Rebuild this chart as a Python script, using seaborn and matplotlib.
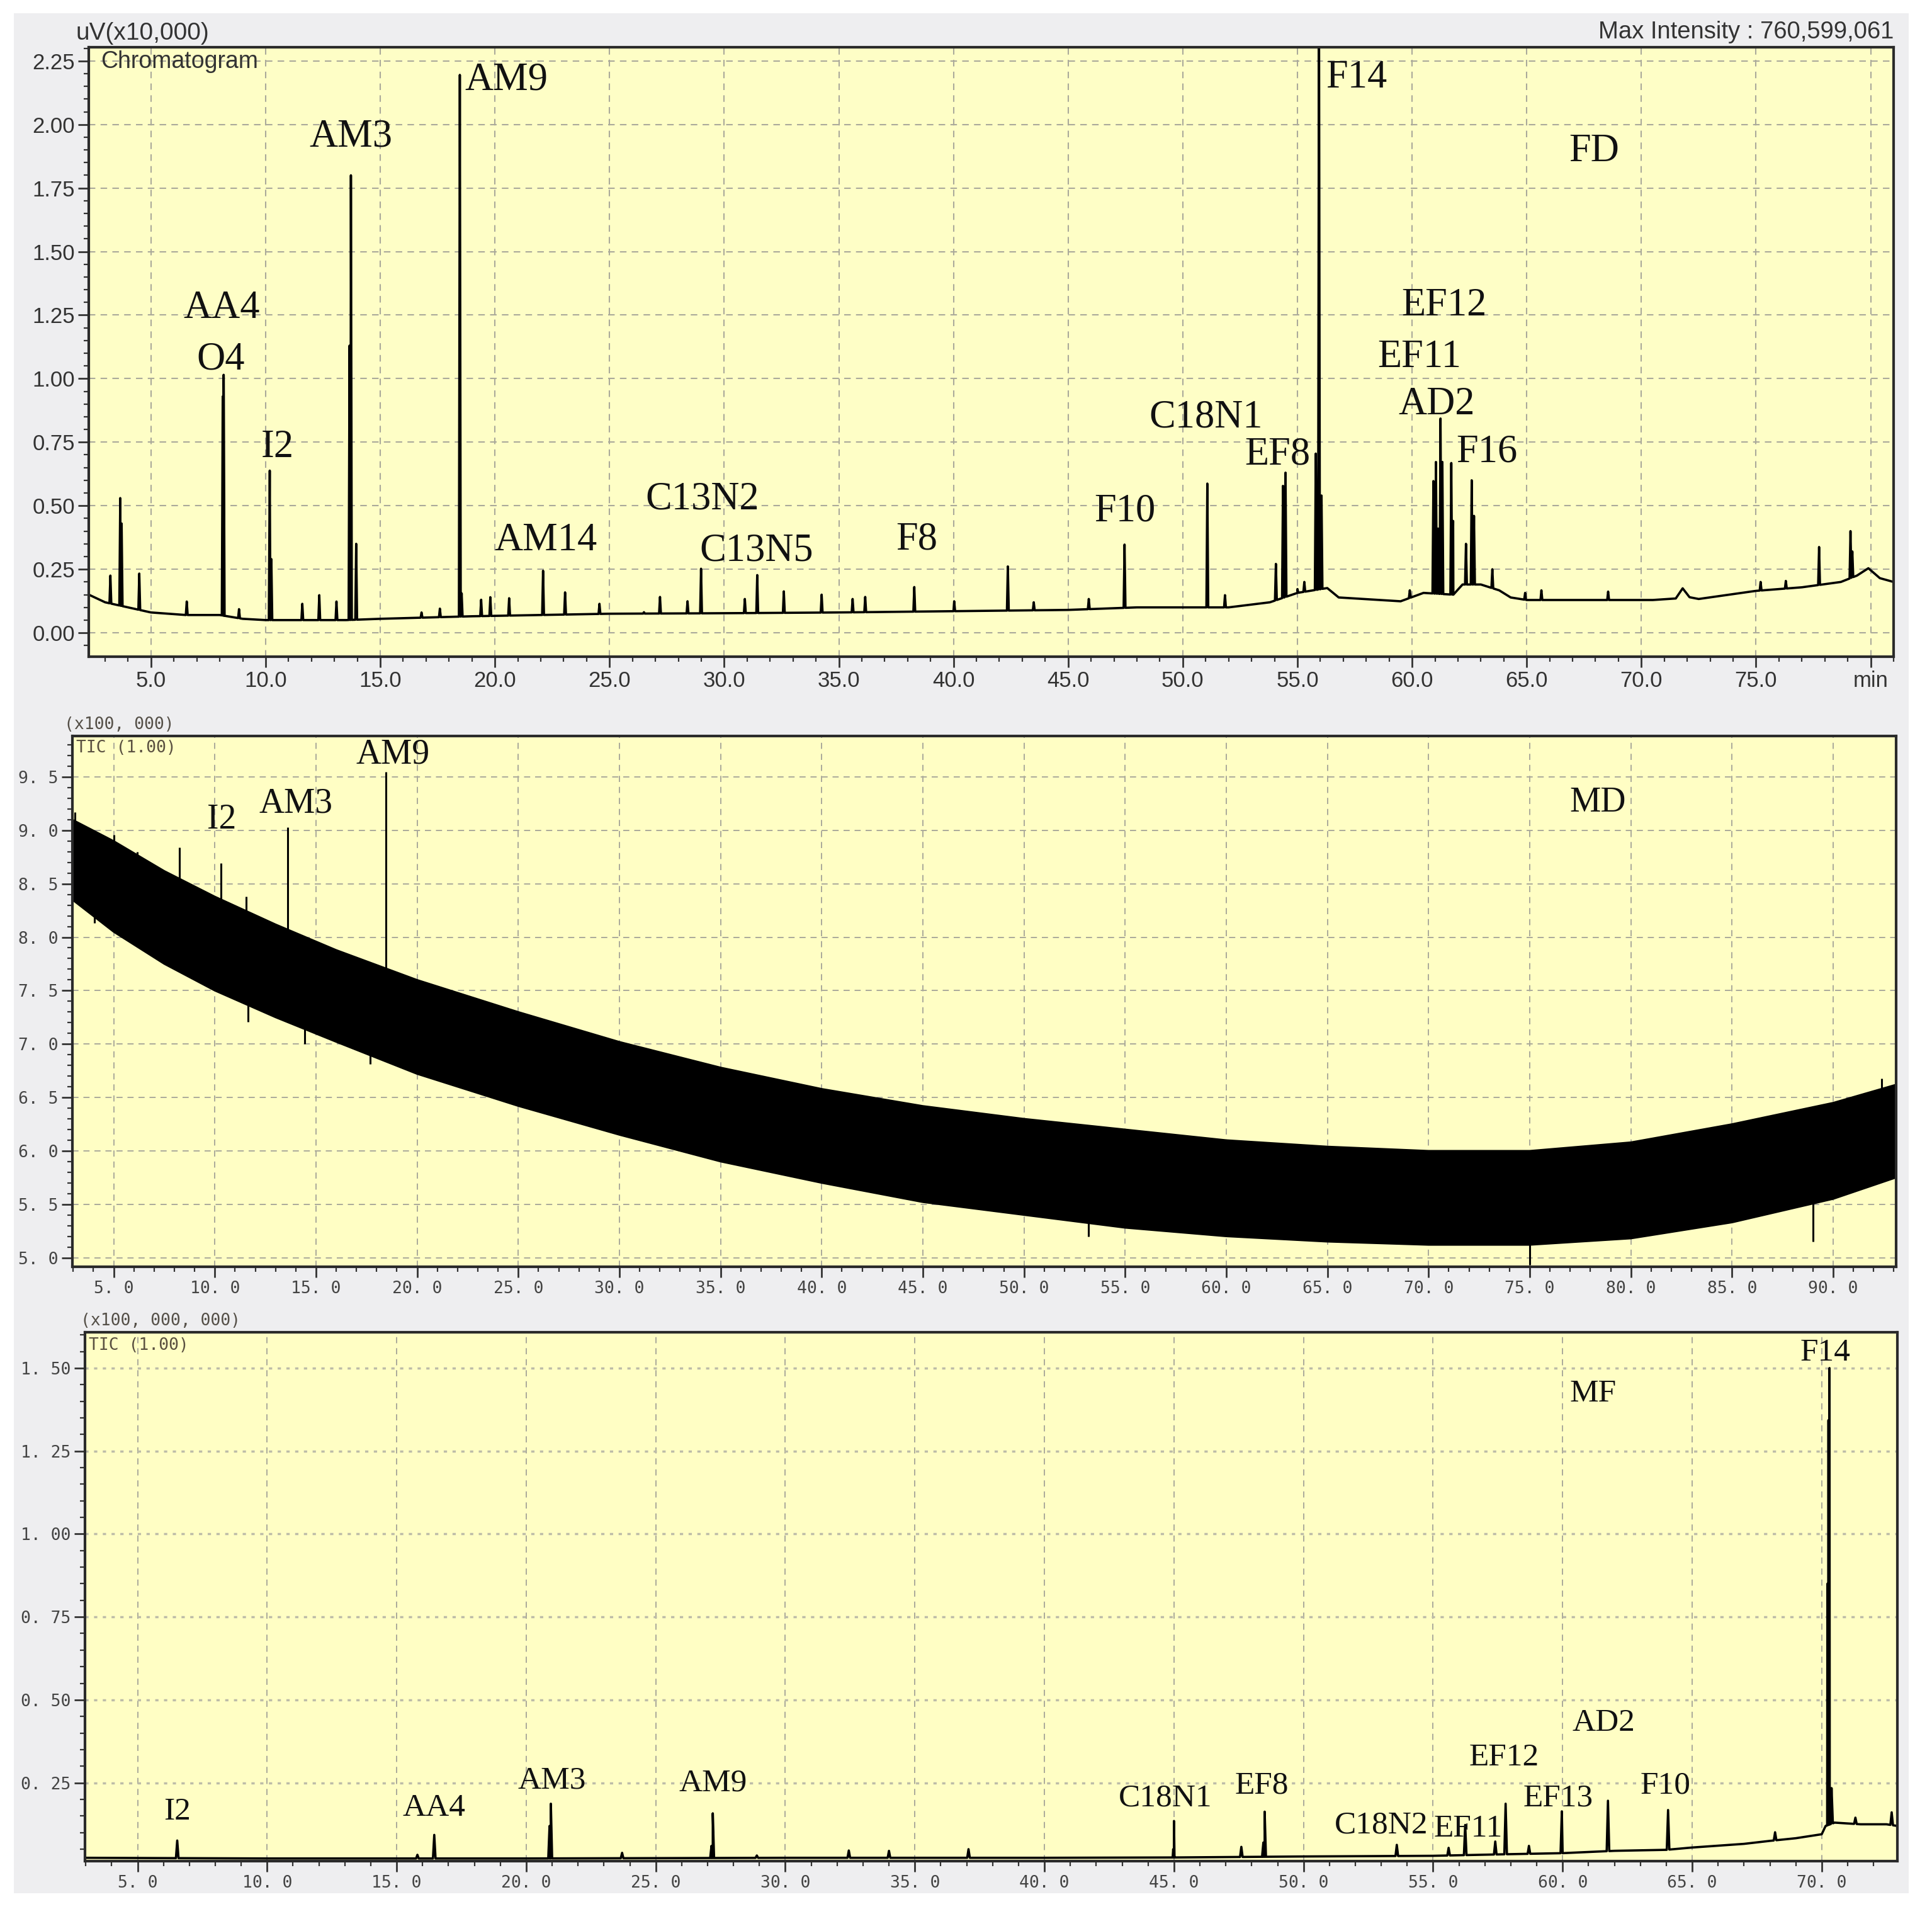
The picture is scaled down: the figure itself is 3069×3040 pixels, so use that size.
import numpy as np
import pandas as pd
import matplotlib
matplotlib.use("Agg")
import matplotlib.pyplot as plt
from matplotlib.patches import Rectangle
from matplotlib.ticker import MultipleLocator, FixedLocator, FixedFormatter
import seaborn as sns

# ---------------- data: FD (top panel, uV x10,000) ----------------
fd_base_t = [2.29, 3.0, 4.0, 5.0, 6.5, 8.0, 9.0, 10.0, 13.5, 15.0, 17.0, 19.0, 22.0, 25.0,
             30.0, 35.0, 40.0, 45.0, 48.0, 52.0, 53.8, 55.0, 56.3, 56.8, 59.5, 60.5, 61.8,
             62.2, 63.0, 63.8, 64.3, 65.0, 70.5, 71.5, 71.8, 72.1, 72.5, 75.0, 77.0, 78.7,
             79.4, 79.9, 80.4, 81.0]
fd_base_v = [0.15, 0.12, 0.10, 0.08, 0.07, 0.07, 0.055, 0.05, 0.05, 0.055, 0.06, 0.065, 0.07, 0.075,
             0.077, 0.08, 0.085, 0.09, 0.10, 0.10, 0.12, 0.157, 0.176, 0.139, 0.124, 0.157, 0.15,
             0.19, 0.19, 0.167, 0.139, 0.129, 0.129, 0.135, 0.175, 0.14, 0.133, 0.165, 0.179, 0.20,
             0.225, 0.254, 0.215, 0.20]
fd_peak_t = [3.23, 3.66, 3.72, 4.49, 6.56, 8.13, 8.17, 8.84, 10.18, 10.25, 11.6, 12.34, 13.09,
             13.66, 13.72, 13.95, 16.8, 17.6, 18.47, 18.55, 19.4, 19.8, 20.62, 22.1, 23.06,
             24.56, 26.5, 27.2, 28.4, 28.99, 30.9, 31.44, 32.6, 34.25, 35.6, 36.15, 38.29,
             40.03, 42.37, 43.5, 45.9, 47.46, 51.07, 51.84, 54.06, 54.37, 54.48, 55.0, 55.3,
             55.8, 55.94, 56.05, 59.9, 60.93, 61.04, 61.13, 61.24, 61.32, 61.71, 61.79, 62.35,
             62.6, 62.7, 63.5, 64.93, 65.64, 68.55, 75.2, 76.3, 77.75, 79.12, 79.2]
fd_peak_h = [0.225, 0.53, 0.43, 0.233, 0.123, 0.93, 1.015, 0.093, 0.638, 0.29, 0.114, 0.148, 0.123,
             1.13, 1.80, 0.35, 0.08, 0.095, 2.195, 0.155, 0.13, 0.14, 0.136, 0.244, 0.159,
             0.114, 0.081, 0.141, 0.124, 0.252, 0.133, 0.227, 0.163, 0.15, 0.133, 0.141, 0.18,
             0.124, 0.261, 0.12, 0.133, 0.347, 0.587, 0.148, 0.271, 0.578, 0.63, 0.172, 0.2,
             0.705, 2.5, 0.54, 0.167, 0.597, 0.672, 0.41, 0.843, 0.672, 0.668, 0.44, 0.35,
             0.60, 0.46, 0.25, 0.157, 0.167, 0.162, 0.2, 0.204, 0.3375, 0.4, 0.32]
fd_labels = ["AA4", "O4", "I2", "AM3", "AM9", "AM14", "C13N2", "C13N5", "F8", "F10",
             "C18N1", "EF8", "F14", "EF12", "EF11", "AD2", "F16", "FD"]
fd_label_t = [8.09, 8.03, 10.51, 13.73, 20.5, 22.22, 29.04, 31.41, 38.39, 47.47,
              51.02, 54.14, 57.58, 61.39, 60.32, 61.07, 63.27, 67.95]
fd_label_v = [1.276, 1.073, 0.729, 1.95, 2.173, 0.361, 0.525, 0.322, 0.365, 0.477,
              0.845, 0.70, 2.182, 1.286, 1.082, 0.898, 0.709, 1.892]

# ---------------- data: MD (middle panel, x100,000) ----------------
md_t = [2.96, 5.0, 7.5, 10.0, 13.0, 16.0, 20.0, 25.0, 30.0, 35.0, 40.0, 45.0, 50.0, 55.0,
        60.0, 65.0, 70.0, 75.0, 80.0, 85.0, 90.0, 93.11]
md_upper = [9.10, 8.90, 8.62, 8.38, 8.12, 7.88, 7.60, 7.30, 7.02, 6.78, 6.58, 6.42, 6.30, 6.20,
            6.10, 6.04, 6.00, 6.00, 6.08, 6.25, 6.45, 6.62]
md_lower = [8.35, 8.05, 7.75, 7.50, 7.25, 7.02, 6.72, 6.42, 6.15, 5.90, 5.70, 5.52, 5.40, 5.28,
            5.20, 5.15, 5.12, 5.12, 5.18, 5.33, 5.55, 5.75]
md_up_t = [3.1, 5.0, 6.18, 8.26, 10.3, 11.54, 13.61, 18.45, 92.4]
md_up_v = [9.17, 8.96, 8.80, 8.84, 8.69, 8.38, 9.03, 9.55, 6.68]
md_dn_t = [4.05, 11.64, 14.45, 17.68, 53.2, 75.0, 89.0]
md_dn_v = [8.13, 7.21, 7.00, 6.81, 5.20, 4.93, 5.15]
md_labels = ["I2", "AM3", "AM9", "MD"]
md_label_t = [10.35, 14.0, 18.81, 78.36]
md_label_v = [9.10, 9.25, 9.712, 9.26]

# ---------------- data: MF (bottom panel, x100,000,000) ----------------
mf_base_t = [2.97, 10.0, 20.0, 30.0, 40.0, 45.0, 50.0, 55.0, 58.0, 60.0, 62.0, 64.0, 65.0,
             67.0, 68.0, 69.0, 70.0, 70.15, 70.5, 71.5, 72.5, 72.92]
mf_base_v = [0.024, 0.022, 0.022, 0.024, 0.024, 0.025, 0.028, 0.03, 0.035, 0.038, 0.045, 0.048,
             0.055, 0.066, 0.075, 0.083, 0.095, 0.12, 0.13, 0.125, 0.125, 0.12]
mf_peak_t = [6.53, 15.8, 16.45, 20.9, 20.95, 23.7, 27.15, 27.2, 28.9, 32.45, 34.0, 37.07,
             44.97, 45.0, 47.6, 48.45, 48.5, 53.6, 55.6, 56.24, 57.4, 57.8, 58.7, 59.97,
             61.75, 64.07, 68.2, 70.22, 70.26, 70.3, 70.38, 71.3, 72.7]
mf_peak_h = [0.076, 0.033, 0.093, 0.12, 0.187, 0.039, 0.06, 0.158, 0.031, 0.046, 0.045, 0.05,
             0.05, 0.135, 0.057, 0.07, 0.163, 0.063, 0.054, 0.123, 0.073, 0.187, 0.06, 0.164,
             0.196, 0.168, 0.101, 0.85, 1.343, 1.50, 0.234, 0.145, 0.161]
mf_labels = ["I2", "AA4", "AM3", "AM9", "C18N1", "EF8", "C18N2", "EF11", "EF12", "EF13",
             "AD2", "F10", "F14", "MF"]
mf_label_t = [6.54, 16.43, 20.99, 27.22, 44.67, 48.38, 53.0, 56.35, 57.74, 59.83,
              61.59, 63.97, 70.15, 61.17]
mf_label_v = [0.163, 0.174, 0.256, 0.248, 0.204, 0.241, 0.122, 0.111, 0.326, 0.204,
              0.43, 0.241, 1.545, 1.423]

# tick values
fd_xticks = [5, 10, 15, 20, 25, 30, 35, 40, 45, 50, 55, 60, 65, 70, 75, 80]
fd_xticklabels = ["5.0", "10.0", "15.0", "20.0", "25.0", "30.0", "35.0", "40.0", "45.0",
                  "50.0", "55.0", "60.0", "65.0", "70.0", "75.0", "min"]
fd_yticks = [0.0, 0.25, 0.5, 0.75, 1.0, 1.25, 1.5, 1.75, 2.0, 2.25]
md_xticks = [5, 10, 15, 20, 25, 30, 35, 40, 45, 50, 55, 60, 65, 70, 75, 80, 85, 90]
md_yticks = [5.0, 5.5, 6.0, 6.5, 7.0, 7.5, 8.0, 8.5, 9.0, 9.5]
mf_xticks = [5, 10, 15, 20, 25, 30, 35, 40, 45, 50, 55, 60, 65, 70]
mf_yticks = [0.25, 0.5, 0.75, 1.0, 1.25, 1.5]

# ---------------- figure ----------------
sns.set_style("ticks")
plt.rcParams["font.family"] = ["Liberation Sans", "DejaVu Sans"]

W, H = 3069, 3040
fig = plt.figure(figsize=(W / 100, H / 100), dpi=100, facecolor="white")
fig.patches.append(Rectangle((22 / W, 1 - 3007 / H), (3032 - 22) / W, (3007 - 21) / H,
                             transform=fig.transFigure, facecolor="#eeeef0",
                             edgecolor="none", zorder=-10))


def ax_at(l, t, r, b):
    return fig.add_axes([l / W, 1 - b / H, (r - l) / W, (b - t) / H])


def trace(base_t, base_v, peak_t, peak_h, w):
    bt = np.asarray(base_t, float)
    bv = np.asarray(base_v, float)
    pts = list(zip(bt, bv))
    for t, h in zip(peak_t, peak_h):
        pts += [(t - w, np.interp(t - w, bt, bv)), (t, h), (t + w, np.interp(t + w, bt, bv))]
    df = pd.DataFrame(pts, columns=["t", "v"])
    return df.sort_values("t", kind="mergesort").reset_index(drop=True)


def frame(ax, face, ticksize, tickfont, tickcolor):
    ax.set_facecolor(face)
    for s in ax.spines.values():
        s.set_visible(True)
        s.set_linewidth(3)
        s.set_color("#2a2a2a")
    ax.tick_params(which="major", direction="out", length=12, width=2, color="#333333",
                   labelsize=ticksize, labelcolor=tickcolor, pad=4)
    ax.tick_params(which="minor", direction="out", length=6, width=1.6, color="#333333")
    for lab in ax.get_xticklabels() + ax.get_yticklabels():
        lab.set_fontfamily(tickfont)
    ax.set_xlabel("")
    ax.set_ylabel("")


def mono_fmt(vals, nd):
    out = []
    for v in vals:
        s = f"{v:.{nd}f}"
        a, b = s.split(".")
        out.append(f"{a}. {b}")
    return out


GRID = "#aaa99a"
SERIF = "Liberation Serif"
MONO = "DejaVu Sans Mono"

# ---- top panel ----
ax1 = ax_at(141, 75, 3008, 1043)
df1 = trace(fd_base_t, fd_base_v, fd_peak_t, fd_peak_h, 0.04)
sns.lineplot(data=df1, x="t", y="v", sort=False, estimator=None, color="black",
             linewidth=2.6, ax=ax1, legend=False)
ax1.set_xlim(2.287, 81.0)
ax1.set_ylim(-0.094, 2.304)
ax1.xaxis.set_major_locator(FixedLocator(fd_xticks))
ax1.xaxis.set_major_formatter(FixedFormatter(fd_xticklabels))
ax1.xaxis.set_minor_locator(MultipleLocator(1))
ax1.yaxis.set_major_locator(FixedLocator(fd_yticks))
ax1.yaxis.set_major_formatter(FixedFormatter([f"{v:.2f}" for v in fd_yticks]))
ax1.yaxis.set_minor_locator(MultipleLocator(0.05))
ax1.grid(True, which="major", color=GRID, linestyle=(0, (5, 4)), linewidth=1.5)
frame(ax1, "#fefec6", 25, "Liberation Sans", "#333333")
for s, t, v in zip(fd_labels, fd_label_t, fd_label_v):
    ax1.text(t, v, s, ha="center", va="center", fontfamily=SERIF, fontsize=45, color="#111111")
fig.text(121 / W, 1 - 53 / H, "uV(x10,000)", ha="left", va="center", fontsize=28, color="#333333")
fig.text(160 / W, 1 - 98 / H, "Chromatogram", ha="left", va="center", fontsize=27, color="#333333")
fig.text(3008 / W, 1 - 51 / H, "Max Intensity : 760,599,061", ha="right", va="center",
         fontsize=27.5, color="#333333")

# ---- middle panel ----
ax2 = ax_at(115, 1169, 3012, 2012)
md_up = np.asarray(md_upper)
md_lo = np.asarray(md_lower)
md_mid = (md_up + md_lo) / 2
ax2.fill_between(md_t, md_lo, md_up, color="black", linewidth=0, zorder=2)
sns.lineplot(x=md_t, y=md_up, color="black", linewidth=2, ax=ax2, legend=False)
sns.lineplot(x=md_t, y=md_lo, color="black", linewidth=2, ax=ax2, legend=False)
ax2.vlines(md_up_t, np.interp(md_up_t, md_t, md_mid), md_up_v, color="black", linewidth=2.2, zorder=3)
ax2.vlines(md_dn_t, md_dn_v, np.interp(md_dn_t, md_t, md_mid), color="black", linewidth=2.2, zorder=3)
ax2.set_xlim(2.96, 93.11)
ax2.set_ylim(4.915, 9.883)
ax2.xaxis.set_major_locator(FixedLocator(md_xticks))
ax2.xaxis.set_major_formatter(FixedFormatter(mono_fmt(md_xticks, 1)))
ax2.xaxis.set_minor_locator(MultipleLocator(1))
ax2.yaxis.set_major_locator(FixedLocator(md_yticks))
ax2.yaxis.set_major_formatter(FixedFormatter(mono_fmt(md_yticks, 1)))
ax2.yaxis.set_minor_locator(MultipleLocator(0.1))
ax2.grid(True, which="major", color=GRID, linestyle=(0, (5, 4)), linewidth=1.4)
frame(ax2, "#fffec4", 19, MONO, "#444444")
for s, t, v in zip(md_labels, md_label_t, md_label_v):
    ax2.text(t, v, s, ha="center", va="center", fontfamily=SERIF, fontsize=40, color="#111111")
fig.text(102 / W, 1 - 1151 / H, "(x100, 000)", ha="left", va="center", fontsize=19,
         fontfamily=MONO, color="#555048")
fig.text(121 / W, 1 - 1188 / H, "TIC (1.00)", ha="left", va="center", fontsize=19,
         fontfamily=MONO, color="#5a5040")

# ---- bottom panel ----
ax3 = ax_at(135, 2116, 3014, 2956)
df3 = trace(mf_base_t, mf_base_v, mf_peak_t, mf_peak_h, 0.05)
sns.lineplot(data=df3, x="t", y="v", sort=False, estimator=None, color="black",
             linewidth=2.6, ax=ax3, legend=False)
ax3.set_xlim(2.97, 72.92)
ax3.set_ylim(0.014, 1.608)
ax3.xaxis.set_major_locator(FixedLocator(mf_xticks))
ax3.xaxis.set_major_formatter(FixedFormatter(mono_fmt(mf_xticks, 1)))
ax3.xaxis.set_minor_locator(MultipleLocator(1))
ax3.yaxis.set_major_locator(FixedLocator(mf_yticks))
ax3.yaxis.set_major_formatter(FixedFormatter(mono_fmt(mf_yticks, 2)))
ax3.yaxis.set_minor_locator(MultipleLocator(0.05))
ax3.grid(True, which="major", axis="x", color=GRID, linestyle=(0, (5, 4)), linewidth=1.4)
ax3.grid(True, which="major", axis="y", color="#bdbca8", linestyle=(0, (1.5, 2.5)), linewidth=2.5)
frame(ax3, "#fffec4", 19, MONO, "#444444")
for s, t, v in zip(mf_labels, mf_label_t, mf_label_v):
    ax3.text(t, v, s, ha="center", va="center", fontfamily=SERIF, fontsize=37, color="#111111")
fig.text(128 / W, 1 - 2098 / H, "(x100, 000, 000)", ha="left", va="center", fontsize=19,
         fontfamily=MONO, color="#555048")
fig.text(141 / W, 1 - 2137 / H, "TIC (1.00)", ha="left", va="center", fontsize=19,
         fontfamily=MONO, color="#5a5040")

fig.savefig("out.png", dpi=100, facecolor=fig.get_facecolor())
